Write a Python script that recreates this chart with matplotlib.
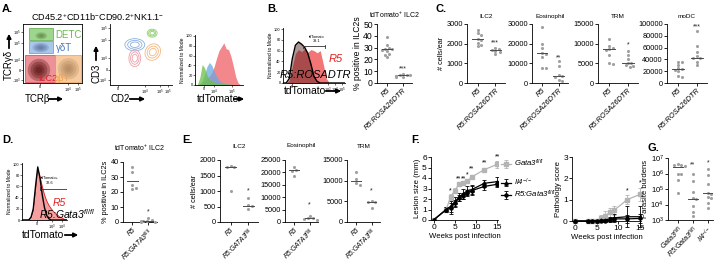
import numpy as np
import matplotlib.pyplot as plt
from matplotlib.patches import Rectangle, Ellipse, FancyArrowPatch

plt.rcParams['font.family'] = ['Liberation Sans', 'DejaVu Sans']
plt.rcParams['mathtext.fontset'] = 'custom'
plt.rcParams['mathtext.rm'] = 'Liberation Sans'
plt.rcParams['mathtext.it'] = 'Liberation Sans:italic'
plt.rcParams['mathtext.bf'] = 'Liberation Sans:bold'
plt.rcParams['axes.linewidth'] = 0.6

# ---------------- data ----------------
# A. flow gates (TCRb vs TCRgd, scaled 0-100)
gate_names = ['DETC', 'γδT', 'ILC2', 'αβT']
gate_x = [(10, 51), (10, 51), (3, 54), (54, 98)]
gate_y = [(73, 93), (51, 71), (2, 47), (2, 47)]
cloud_cx = [31, 30, 27, 77]
cloud_cy = [80, 60, 22, 24]
cloud_rx = [10, 14, 19, 18]
cloud_ry = [6, 8, 19, 18]
# A. CD2 vs CD3 contours
ring_cx = [68, 40, 69, 40]
ring_cy = [85, 66, 54, 44]
ring_w = [16, 32, 24, 19]
ring_h = [13, 20, 28, 28]
# A. tdTomato histograms (% of mode on 0-100 channel grid)
hist_x = list(range(0, 101, 5))
a_green = [0, 1, 15, 42, 35, 20, 12, 8, 6, 5, 4, 3, 3, 2, 2, 1, 1, 1, 0, 0, 0]
a_blue = [0, 0, 2, 8, 22, 38, 46, 40, 28, 18, 10, 6, 4, 3, 2, 1, 1, 0, 0, 0, 0]
a_red = [0, 0, 2, 5, 9, 13, 18, 25, 38, 55, 70, 78, 86, 74, 72, 58, 38, 16, 4, 0, 0]
# B. histograms
b_red = [0, 0, 4, 30, 55, 62, 58, 64, 57, 62, 60, 56, 60, 35, 8, 0, 0, 0, 0, 0, 0]
b_black = [0, 0, 8, 45, 70, 76, 72, 66, 55, 35, 12, 3, 0, 0, 0, 0, 0, 0, 0, 0, 0]
b_gate = 39.1
# B. % positive
b_groups = ['R5', 'R5:ROSA26DTR']
b_r5 = [39, 32, 30, 29, 28.5, 28, 27, 25, 24, 22]
b_dtr = [8, 7, 7, 6.5, 6, 6, 5.5, 5, 6]
b_lines = [28.5, 6.5]
# C. cells/ear
c_titles = ['ILC2', 'Eosinophil', 'TRM', 'moDC']
c_r5 = [[2700, 2550, 2450, 2250, 2200, 2050, 1950, 1900],
        [28500, 20000, 18000, 15500, 15000, 13000, 7500, 7500],
        [11200, 9500, 9000, 8600, 8500, 7000, 5000, 4800],
        [35000, 35000, 30000, 25000, 24000, 22000, 20000, 12000, 11000]]
c_dtr = [[1800, 1720, 1700, 1650, 1600, 1450],
         [11000, 8500, 4000, 3500, 3000, 1500, 800],
         [8200, 7000, 6000, 5200, 5000, 4500, 4000, 4200],
         [88000, 62000, 52000, 45000, 43000, 42000, 35000, 30000]]
c_lines = [(2250, 1700), (15300, 3500), (8600, 5000), (24000, 43000)]
c_stars = [('***', 2050), ('**', 13000), ('*', 9700), ('***', 95000)]
c_ymax = [3000, 30000, 15000, 100000]
c_step = [1000, 10000, 5000, 20000]
# D.
d_black = [0, 0, 0, 0, 5, 20, 60, 95, 75, 45, 22, 8, 2, 0, 0, 0, 0, 0, 0, 0, 0]
d_red = [0, 0, 0, 0, 4, 15, 50, 90, 78, 60, 45, 34, 26, 20, 15, 11, 8, 5, 3, 1, 0]
d_gate = 32.6
d_groups = ['R5', 'R5:GATA3$^{fl/fl}$']
d_r5 = [37, 33.5, 24.5, 23, 22]
d_gata = [2.5, 1.2, 0.8, 0.5, 0.3, 0.2, 0.6]
d_lines = [27.5, 0.5]
# E.
e_titles = ['ILC2', 'Eosinophil', 'TRM']
e_r5 = [[1800, 1780, 1780, 1000], [22000, 21000, 20500, 18400], [12000, 10300, 9400, 8900]]
e_gata = [[780, 560, 520, 410], [2500, 1700, 1500, 1200, 1000], [5200, 4900, 4800, 3500]]
e_lines = [(1780, 520), (20800, 1600), (9800, 4800)]
e_stars = [1000, 7000, 7600]
e_ymax = [2000, 25000, 15000]
e_step = [500, 5000, 5000]
# F.
weeks = [0, 3, 4, 5, 6, 7, 8, 9, 12, 15]
les_gata = [0, 1.0, 2.2, 2.8, 3.4, 3.5, 3.7, 4.1, 4.8, 5.3]
les_gata_err = [0, 0.2, 0.3, 0.25, 0.2, 0.2, 0.2, 0.2, 0.2, 0.3]
les_il4 = [0, 1.0, 1.3, 1.7, 2.2, 2.5, 2.8, 2.9, 3.5, 3.65]
les_il4_err = [0, 0.2, 0.5, 0.5, 0.4, 0.5, 0.4, 0.4, 0.35, 0.4]
les_r5 = [0, 1.0, 1.1, 1.6, 2.1, 2.3, 2.6, 2.8, 3.2, 3.4]
les_r5_err = [0, 0.2, 0.5, 0.3, 0.3, 0.3, 0.3, 0.4, 0.3, 0.3]
les_star_wk = [4, 6, 7, 8, 9, 12, 15]
les_star_y = [2.75, 3.95, 3.95, 4.25, 4.9, 5.45, 6.0]
les_star_txt = ['*', '**', '**', '*', '**', '**', '**']
pat_gata = [0, 0, 0, 0, 0.15, 0.25, 0.4, 0.5, 1.0, 1.25]
pat_gata_err = [0, 0, 0, 0, 0.15, 0.2, 0.2, 0.2, 0.2, 0.3]
pat_il4 = [0, 0, 0, 0, 0.05, 0.05, 0.1, 0.15, 0.2, 0.2]
pat_il4_err = [0, 0, 0, 0, 0.05, 0.1, 0.1, 0.2, 0.5, 0.5]
pat_r5 = [0, 0, 0, 0, 0.02, 0.02, 0.05, 0.1, 0.1, 0.12]
pat_r5_err = [0, 0, 0, 0, 0.05, 0.05, 0.1, 0.1, 0.2, 0.2]
pat_star_wk = [12, 15]
pat_star_y = [1.4, 1.8]
# G.
g_groups = ['Gata3$^{fl/fl}$', 'R5:Gata3$^{fl/fl}$', 'Il4$^{-/-}$']
g_vals = [[4e6, 3.8e6, 3.5e6, 3e6, 1e6, 9e5, 3.7e5, 5.5e4],
          [9e5, 3.4e5, 6e4, 2.5e4, 2.4e4, 8e3, 3.5e3, 1.8e3],
          [2e6, 7.5e5, 2.2e5, 5.5e4, 5e4, 3e4, 2.5e4, 1.2e4, 6e3]]
g_lines = [2.6e6, 2.2e4, 5.5e4]
g_stars = [None, ('**', 3.5e6), ('*', 4.5e6)]

# ---------------- helpers ----------------
W, H = 720, 264
GRAY = '#a0a0a0'
fig = plt.figure(figsize=(7.2, 2.64), dpi=100)


def add_ax(l, t, r, b):
    return fig.add_axes([l / W, 1 - b / H, (r - l) / W, (b - t) / H])


def ftext(x, y, s, **kw):
    fig.text(x / W, 1 - y / H, s, **kw)


def farrow(x0, y0, x1, y1):
    fig.add_artist(FancyArrowPatch((x0 / W, 1 - y0 / H), (x1 / W, 1 - y1 / H),
                                   transform=fig.transFigure, arrowstyle='-|>',
                                   mutation_scale=6, lw=1.3, color='k'))


def swarm(ax, c, vals, log=False, gap=2.9):
    # simple beeswarm: spread points sideways only where they would overlap
    pos = ax.get_position()
    wpx, hpx = pos.width * W, pos.height * H
    x0, x1 = ax.get_xlim()
    y0, y1 = ax.get_ylim()
    f = np.log10 if log else (lambda a: np.asarray(a, float))
    ypx = (f(np.asarray(vals, float)) - f(y0)) / (f(y1) - f(y0)) * hpx
    placed, xs = [], []
    for yp in ypx:
        for k in [0, 1, -1, 2, -2, 3, -3, 4, -4]:
            xp = k * gap * 0.6
            if all((xp - a) ** 2 + (yp - b) ** 2 >= gap ** 2 for a, b in placed):
                break
        placed.append((xp, yp))
        xs.append(c + xp * (x1 - x0) / wpx)
    return xs


def style(ax, fs):
    for s in ['top', 'right']:
        ax.spines[s].set_visible(False)
    ax.tick_params(length=2, width=0.6, pad=1, labelsize=fs)


def dot_panel(box, groups, values, lines, ylim, yticks, title=None, ylabel=None,
              stars=(), log=False, fs=5.3, xfs=5.3, tfs=4.6, tpad=3):
    ax = add_ax(*box)
    n = len(groups)
    ax.set_xlim(-0.6, n - 0.45)
    if log:
        ax.set_yscale('log')
    ax.set_ylim(*ylim)
    for i, (vals, m) in enumerate(zip(values, lines)):
        xs = swarm(ax, i, vals, log)
        ax.scatter(xs, vals, s=5, color=GRAY, linewidths=0, zorder=3, clip_on=False)
        ax.plot([i - 0.32, i + 0.32], [m, m], color='#4a4a4a', lw=0.7, zorder=4)
    for i, txt, y in stars:
        ax.text(i, y, txt, ha='center', va='center', fontsize=5, color='#222222')
    ax.set_xticks(range(n))
    ax.set_xticklabels(groups, rotation=45, ha='right', rotation_mode='anchor',
                       fontsize=xfs, style='italic')
    ax.set_yticks(yticks)
    if not log:
        ax.set_yticklabels([str(int(t)) for t in yticks])
    style(ax, fs)
    ax.tick_params(axis='x', labelsize=xfs)
    if title:
        ax.set_title(title, fontsize=tfs, pad=tpad)
    if ylabel:
        ax.set_ylabel(ylabel, fontsize=fs, labelpad=1)
    return ax


def flow_ticks(ax, xt, xl, yt, yl):
    ax.set_xticks(xt)
    ax.set_xticklabels(xl)
    ax.set_yticks(yt)
    ax.set_yticklabels(yl)
    ax.tick_params(length=1.2, width=0.4, pad=0.5, labelsize=2.8)


# ---------------- panel A ----------------
ftext(2, 9, 'A.', fontsize=8, fontweight='bold', va='center')
ftext(98, 17, 'CD45.2$^{+}$CD11b$^{-}$CD90.2$^{+}$NK1.1$^{-}$', fontsize=6.6,
      ha='center', va='center')

ax = add_ax(23, 24, 82, 83)
ax.set_xlim(0, 100)
ax.set_ylim(0, 100)
gate_fc = ['#8ccf78', '#9bbde6', '#ea7f86', '#f6c28e']
gate_ec = ['#5aa848', '#6a96d0', '#d8404c', '#e8a060']
cloud_c = ['#4d6e35', '#42588a', '#4a0606', '#9a7048']
for i in range(4):
    (x0, x1), (y0, y1) = gate_x[i], gate_y[i]
    ax.add_patch(Rectangle((x0, y0), x1 - x0, y1 - y0, fc=gate_fc[i], ec=gate_ec[i],
                           lw=0.6, alpha=0.85))
for i in range(4):
    for sc in [1.0, 0.75, 0.5, 0.28]:
        ax.add_patch(Ellipse((cloud_cx[i], cloud_cy[i]), 2 * cloud_rx[i] * sc,
                             2 * cloud_ry[i] * sc, angle=20 if i == 2 else 0,
                             fc=cloud_c[i], ec='none', alpha=0.3 if i == 2 else 0.22))
lab_x = [55, 56, 42, 66]
lab_y = [81, 60, 7, 7]
lab_c = ['#66bb4a', '#4a78c0', '#e0202a', '#f0a048']
for i in range(4):
    ax.text(lab_x[i], lab_y[i], gate_names[i], color=lab_c[i], fontsize=7 if i < 2 else 6.5,
            ha='left' if i < 2 else 'center', va='center')
flow_ticks(ax, [29, 76, 93], ['0', '10$^4$', '10$^5$'],
           [5, 22, 39, 68, 86], ['-10$^3$', '0', '10$^4$', '10$^5$', '10$^5$'])
ftext(9, 65, 'TCRγδ', fontsize=7, rotation=90, ha='center', va='center')
farrow(9, 51, 9, 31)
ftext(25, 99, 'TCRβ', fontsize=7, ha='left', va='center')
farrow(46, 99, 66, 99)

ax = add_ax(110, 24, 172, 85)
ax.set_xlim(0, 100)
ax.set_ylim(0, 100)
ring_c = ['#8fcf70', '#8ab0e0', '#f4b880', '#eba0a8']
for i in range(4):
    for sc in [1.0, 0.72, 0.45]:
        ax.add_patch(Ellipse((ring_cx[i], ring_cy[i]), ring_w[i] * sc, ring_h[i] * sc,
                             angle=-30 if i == 2 else 0, fc='none', ec=ring_c[i], lw=0.6))
style(ax, 3)
flow_ticks(ax, [13, 56, 81, 94], ['0', '10$^4$', '10$^5$', '10$^5$'],
           [8, 25, 44, 74, 93], ['-10$^4$', '0', '10$^4$', '10$^5$', '10$^5$'])
ftext(96, 73, 'CD3', fontsize=7, rotation=90, ha='center', va='center')
farrow(96, 63, 96, 43)
ftext(110, 99, 'CD2', fontsize=7, ha='left', va='center')
farrow(127, 99, 148, 99)

ax = add_ax(195, 35, 243, 85)
ax.set_xlim(0, 100)
ax.set_ylim(0, 102)
ax.fill_between(hist_x, a_red, color='#f06a70', alpha=0.8, lw=0)
ax.fill_between(hist_x, a_blue, color='#6aa8e0', alpha=0.75, lw=0)
ax.fill_between(hist_x, a_green, color='#6cc048', alpha=0.75, lw=0)
style(ax, 3)
flow_ticks(ax, [19, 40, 77], ['0', '10$^4$', '10$^5$'],
           [0, 20, 40, 60, 80, 100], ['0', '20', '40', '60', '80', '100'])
ax.set_ylabel('Normalized to Mode', fontsize=3.6, labelpad=1)
ftext(197, 99, 'tdTomato', fontsize=7.5, ha='left', va='center')
farrow(231, 99, 247, 99)

# ---------------- panel B ----------------
ftext(267, 9, 'B.', fontsize=8, fontweight='bold', va='center')
ax = add_ax(283, 28, 345, 83)
ax.set_xlim(0, 100)
ax.set_ylim(0, 102)
ax.fill_between(hist_x, b_red, color='#ee4848', alpha=0.75, lw=0)
ax.fill_between(hist_x, b_black, color='#501818', alpha=0.45, lw=0)
ax.plot(hist_x, b_black, color='k', lw=1.0)
ax.plot([32, 68], [68, 68], color='#333333', lw=0.6)
ax.plot([32, 32], [65, 71], color='#333333', lw=0.6)
ax.plot([68, 68], [65, 71], color='#333333', lw=0.6)
ax.text(55, 86, 'tdTomato', fontsize=2.8, ha='center', va='center')
ax.text(55, 78, f'{b_gate}', fontsize=2.8, ha='center', va='center')
ax.text(74, 44, 'R5', fontsize=8, color='#e02020', style='italic', ha='left', va='center')
ax.text(53, 15, 'R5:ROSADTR', fontsize=8, style='italic', ha='center', va='center', clip_on=False)
style(ax, 3)
flow_ticks(ax, [15, 73, 84, 95], ['0', '10$^3$', '10$^4$', '10$^5$'],
           [0, 20, 40, 60, 80, 100], ['0', '20', '40', '60', '80', '100'])
ax.set_ylabel('Normalized to Mode', fontsize=3.6, labelpad=1)
ftext(284, 91, 'tdTomato', fontsize=7.5, ha='left', va='center')
farrow(323, 91, 344, 91)

dot_panel((377, 24, 412, 83), b_groups, [b_r5, b_dtr], b_lines, (0, 50),
          [0, 10, 20, 30, 40, 50], title='tdTomato$^{+}$ ILC2',
          ylabel='% positive in ILC2s', stars=[(1, '***', 12)], fs=6.2, xfs=5.3,
          tfs=5, tpad=4)

# ---------------- panel C ----------------
ftext(436, 9, 'C.', fontsize=8, fontweight='bold', va='center')
c_boxes = [(467, 24, 505, 83), (532, 24, 568, 83), (598, 24, 638, 83), (667, 24, 707, 83)]
for k in range(4):
    dot_panel(c_boxes[k], b_groups, [c_r5[k], c_dtr[k]], c_lines[k], (0, c_ymax[k]),
              list(range(0, c_ymax[k] + 1, c_step[k])), title=c_titles[k],
              ylabel='# cells/ear' if k == 0 else None,
              stars=[(1, c_stars[k][0], c_stars[k][1])], tpad=4)

# ---------------- panel D ----------------
ftext(2, 140, 'D.', fontsize=8, fontweight='bold', va='center')
ax = add_ax(22, 163, 67, 220)
ax.set_xlim(0, 100)
ax.set_ylim(0, 102)
ax.fill_between(hist_x, d_red, color='#f07878', alpha=0.7, lw=0)
ax.plot(hist_x, d_red, color='#e02020', lw=0.6)
ax.plot(hist_x, d_black, color='k', lw=1.0)
ax.plot([40, 100], [56, 56], color='#333333', lw=0.6)
ax.plot([40, 40], [53, 59], color='#333333', lw=0.6)
ax.plot([100, 100], [53, 59], color='#333333', lw=0.6)
ax.text(62, 75, 'tdTomato+', fontsize=2.8, ha='center', va='center')
ax.text(62, 67, f'{d_gate}', fontsize=2.8, ha='center', va='center')
ax.text(82, 30, 'R5', fontsize=7.5, color='#e02020', style='italic', ha='center', va='center')
ax.text(100, 11, 'R5:Gata3$^{fl/fl}$', fontsize=7.5, style='italic', ha='center',
        va='center', clip_on=False)
style(ax, 3)
flow_ticks(ax, [33, 67, 89], ['0', '10$^3$', '10$^4$'],
           [0, 20, 40, 60, 80, 100], ['0', '20', '40', '60', '80', '100'])
ax.set_ylabel('Normalized to Mode', fontsize=3.6, labelpad=1)
ftext(22, 235, 'tdTomato', fontsize=7.5, ha='left', va='center')
farrow(62, 235, 81, 235)

dot_panel((123, 162, 157, 222), d_groups, [d_r5, d_gata], d_lines, (0, 40),
          [0, 10, 20, 30, 40], title='tdTomato$^{+}$ ILC2',
          ylabel='% positive in ILC2s', stars=[(1, '*', 7)], fs=5.3, xfs=4.9,
          tfs=5, tpad=8)

# ---------------- panel E ----------------
ftext(182, 140, 'E.', fontsize=8, fontweight='bold', va='center')
e_boxes = [(220, 160, 258, 222), (285, 160, 318, 222), (347, 160, 380, 222)]
for k in range(3):
    dot_panel(e_boxes[k], d_groups, [e_r5[k], e_gata[k]], e_lines[k], (0, e_ymax[k]),
              list(range(0, e_ymax[k] + 1, e_step[k])), title=e_titles[k],
              ylabel='# cells/ear' if k == 0 else None, xfs=4.8,
              stars=[(1, '*', e_stars[k])], tpad=9)

# ---------------- panel F ----------------
ftext(411, 140, 'F.', fontsize=8, fontweight='bold', va='center')
LG = '#b4b4b4'
ax = add_ax(431, 157, 498, 220)
h1 = ax.errorbar(weeks, les_gata, yerr=les_gata_err, fmt='-s', color=LG, ms=2.2, lw=0.9,
                 elinewidth=0.6, capsize=1.5, capthick=0.6)
h2 = ax.errorbar(weeks, les_il4, yerr=les_il4_err, fmt='-^', color='k', ms=2.4, lw=0.9,
                 elinewidth=0.6, capsize=1.5, capthick=0.6)
h3 = ax.errorbar(weeks, les_r5, yerr=les_r5_err, fmt='-o', color='k', ms=2.2, lw=0.9,
                 elinewidth=0.6, capsize=1.5, capthick=0.6)
for wk, y, s in zip(les_star_wk, les_star_y, les_star_txt):
    ax.text(wk, y, s, ha='center', va='center', fontsize=5, clip_on=False)
ax.set_xlim(-0.6, 15.2)
ax.set_ylim(0, 6)
ax.set_xticks([0, 5, 10, 15])
ax.set_yticks(range(7))
style(ax, 6)
ax.set_xlabel('Weeks post infection', fontsize=5.6, labelpad=1)
ax.set_ylabel('Lesion size (mm)', fontsize=5.6, labelpad=1)
leg1 = ax.legend([h1], ['Gata3$^{fl/fl}$'], loc='upper left', bbox_to_anchor=(1.0, 1.04),
                 frameon=False, borderaxespad=0, handlelength=1.3, handletextpad=0.4,
                 prop={'size': 5.6, 'style': 'italic'})
ax.add_artist(leg1)
ax.legend([h2, h3], ['Il4$^{-/-}$', 'R5:Gata3$^{fl/fl}$'], loc='upper left',
          bbox_to_anchor=(1.0, 0.74), frameon=False, borderaxespad=0, handlelength=1.3,
          handletextpad=0.4, labelspacing=0.1, prop={'size': 5.6, 'style': 'italic'})

ax = add_ax(572, 157, 641, 221)
for vals, err, mk, c in [(pat_gata, pat_gata_err, 's', LG), (pat_il4, pat_il4_err, '^', 'k'),
                         (pat_r5, pat_r5_err, 'o', 'k')]:
    ax.errorbar(weeks, vals, yerr=err, fmt='-' + mk, color=c, ms=2.2, lw=0.9,
                elinewidth=0.6, capsize=1.5, capthick=0.6, clip_on=False)
for wk, y in zip(pat_star_wk, pat_star_y):
    ax.text(wk, y, '*', ha='center', va='center', fontsize=5)
ax.set_xlim(-0.7, 15.2)
ax.set_ylim(0, 3)
ax.set_xticks([0, 5, 10, 15])
ax.set_yticks([0, 1, 2, 3])
style(ax, 6)
ax.set_xlabel('Weeks post infection', fontsize=5.6, labelpad=1)
ax.set_ylabel('Pathology score', fontsize=5.6, labelpad=1)

# ---------------- panel G ----------------
ftext(647, 148, 'G.', fontsize=8, fontweight='bold', va='center')
g_st = [(i, s[0], s[1]) for i, s in enumerate(g_stars) if s]
ax = dot_panel((668, 158, 713, 220), g_groups, g_vals, g_lines, (1e3, 1e7),
               [1e3, 1e4, 1e5, 1e6, 1e7], ylabel='Parasite burdens', stars=g_st, log=True,
               fs=5.5, xfs=5.2)
ax.set_xlim(-0.65, 2.35)
ax.minorticks_off()

fig.savefig('out.png', dpi=100)
